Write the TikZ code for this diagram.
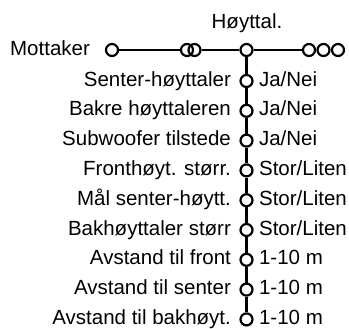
\documentclass[tikz,border=0pt]{standalone}
\usepackage{fontspec}
\setmainfont{Liberation Sans}
\begin{document}
\begin{tikzpicture}[x=1bp,y=-1bp,line width=2.2bp,
  stn/.style={circle,draw,line width=2.2bp,minimum size=12bp,inner sep=0pt},
  lbl/.style={inner sep=0pt,font=\fontsize{20.5bp}{24bp}\selectfont}]
\useasboundingbox (0,0) rectangle (349,329);

\node[lbl,anchor=base] (hoyttal) at (247,28) {Høyttal.};
\node[lbl,anchor=base east] (mottaker) at (91,55) {Mottaker};

\node[stn] (m) at (112,50) {};
\node[stn] (d1) at (187,50) {};
\node[stn] (d2) at (194.5,50) {};
\node[stn] (top) at (246.5,50) {};
\node[stn] (e1) at (309,50) {};
\node[stn] (e2) at (323.5,50) {};
\node[stn] (e3) at (338,50) {};

\node[stn] (v1) at (246.5,81) {};
\node[stn] (v2) at (246.5,110.8) {};
\node[stn] (v3) at (246.5,140.6) {};
\node[stn] (v4) at (246.5,170.4) {};
\node[stn] (v5) at (246.5,200.2) {};
\node[stn] (v6) at (246.5,230) {};
\node[stn] (v7) at (246.5,259.8) {};
\node[stn] (v8) at (246.5,289.6) {};
\node[stn] (v9) at (246.5,319.4) {};

\draw (m) -- (d1);
\draw (d2) -- (top) -- (e1);
\draw (top) -- (v1) -- (v2) -- (v3) -- (v4) -- (v5) -- (v6) -- (v7) -- (v8) -- (v9);

\node[lbl,anchor=base east] (q1) at (232,86) {Senter-høyttaler};
\node[lbl,anchor=base east] (q2) at (232,115.8) {Bakre høyttaleren};
\node[lbl,anchor=base east] (q3) at (232,145.6) {Subwoofer tilstede};
\node[lbl,anchor=base east] (q4) at (232,175.4) {Fronthøyt. størr.};
\node[lbl,anchor=base east] (q5) at (232,205.2) {Mål senter-høytt.};
\node[lbl,anchor=base east] (q6) at (232,235) {Bakhøyttaler størr};
\node[lbl,anchor=base east] (q7) at (232,264.8) {Avstand til front};
\node[lbl,anchor=base east] (q8) at (232,294.6) {Avstand til senter};
\node[lbl,anchor=base east] (q9) at (232,324.4) {Avstand til bakhøyt.};

\node[lbl,anchor=base west] (a1) at (258,86) {Ja/Nei};
\node[lbl,anchor=base west] (a2) at (258,115.8) {Ja/Nei};
\node[lbl,anchor=base west] (a3) at (258,145.6) {Ja/Nei};
\node[lbl,anchor=base west] (a4) at (258,175.4) {Stor/Liten};
\node[lbl,anchor=base west] (a5) at (258,205.2) {Stor/Liten};
\node[lbl,anchor=base west] (a6) at (258,235) {Stor/Liten};
\node[lbl,anchor=base west] (a7) at (258,264.8) {1-10 m};
\node[lbl,anchor=base west] (a8) at (258,294.6) {1-10 m};
\node[lbl,anchor=base west] (a9) at (258,324.4) {1-10 m};
\end{tikzpicture}
\end{document}
